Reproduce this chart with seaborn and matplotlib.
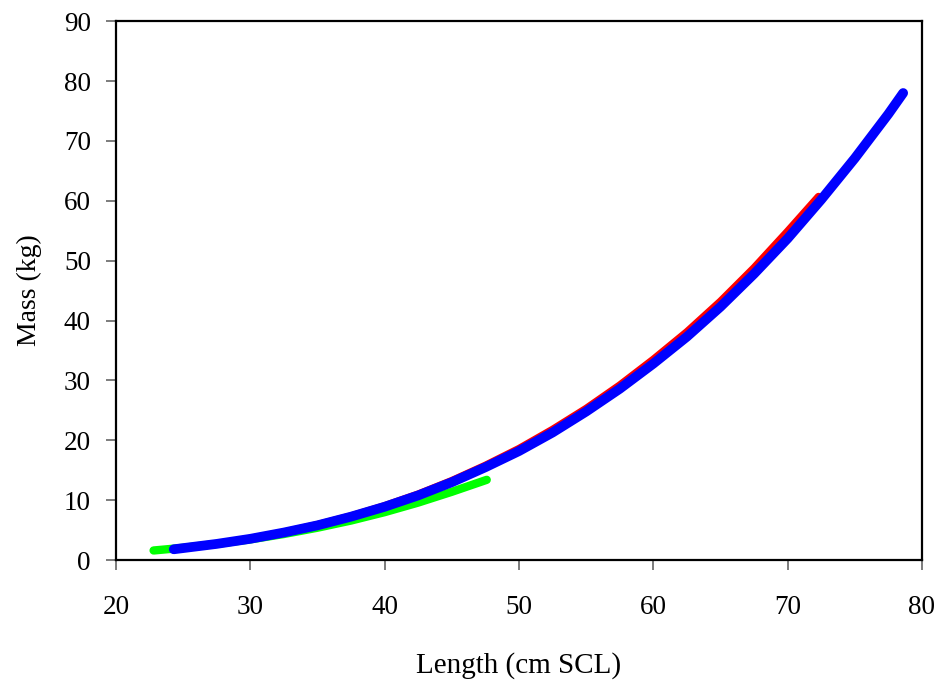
import matplotlib
matplotlib.use("Agg")
import matplotlib.pyplot as plt
import pandas as pd
import seaborn as sns

# values
green_len = [22.8, 25, 27.5, 30, 32.5, 35, 37.5, 40, 42.5, 45, 47.6]
green_mass = [1.6, 2.05, 2.7, 3.45, 4.35, 5.4, 6.6, 8.0, 9.6, 11.4, 13.4]

red_len = [24.3, 27.5, 30, 32.5, 35, 37.5, 40, 42.5, 45, 47.5, 50,
           52.5, 55, 57.5, 60, 62.5, 65, 67.5, 70, 72.3]
red_mass = [1.8, 2.7, 3.6, 4.65, 5.9, 7.35, 9.05, 11.0, 13.25, 15.8, 18.6,
            21.8, 25.3, 29.2, 33.5, 38.1, 43.2, 48.8, 54.9, 60.7]

blue_len = [24.3, 27.5, 30, 32.5, 35, 37.5, 40, 42.5, 45, 47.5, 50,
            52.5, 55, 57.5, 60, 62.5, 65, 67.5, 70, 72.5, 75, 77.5, 78.6]
blue_mass = [1.8, 2.7, 3.55, 4.6, 5.8, 7.25, 8.9, 10.8, 13.0, 15.5, 18.2,
             21.3, 24.8, 28.6, 32.8, 37.3, 42.3, 47.8, 53.7, 60.2, 67.1, 74.5, 78.0]

df = pd.concat([
    pd.DataFrame({"len": green_len, "mass": green_mass, "grp": "green"}),
    pd.DataFrame({"len": red_len, "mass": red_mass, "grp": "red"}),
    pd.DataFrame({"len": blue_len, "mass": blue_mass, "grp": "blue"}),
])

sns.set_style("ticks")
plt.rcParams["font.family"] = ["Liberation Serif", "DejaVu Serif"]
plt.rcParams["text.color"] = "black"
plt.rcParams["axes.labelcolor"] = "black"

fig = plt.figure(figsize=(9.43, 6.83), dpi=100)
ax = fig.add_axes([0.123, 0.180, 0.8547, 0.789])

widths = {"green": 6.0, "red": 5.5, "blue": 7.0}
for g, c in [("green", "#00ff00"), ("red", "#ff0000"), ("blue", "#0000ff")]:
    sns.lineplot(data=df[df["grp"] == g], x="len", y="mass", color=c, ax=ax,
                 sort=False, estimator=None, linewidth=widths[g],
                 solid_capstyle="round", solid_joinstyle="round")

ax.set_xlim(20, 80)
ax.set_ylim(0, 90)
ax.set_xticks(range(20, 81, 10))
ax.set_yticks(range(0, 91, 10))
ax.set_xlabel("Length (cm SCL)", fontsize=21, labelpad=23)
ax.set_ylabel("Mass (kg)", fontsize=20, labelpad=16)
ax.tick_params(axis="both", labelsize=19.5, length=7, width=1.2, color="#666666",
               labelcolor="black", direction="out")
ax.tick_params(axis="x", pad=18)
ax.tick_params(axis="y", pad=11)
for s in ax.spines.values():
    s.set_color("black")
    s.set_linewidth(1.6)

fig.savefig("out.png", dpi=100)
